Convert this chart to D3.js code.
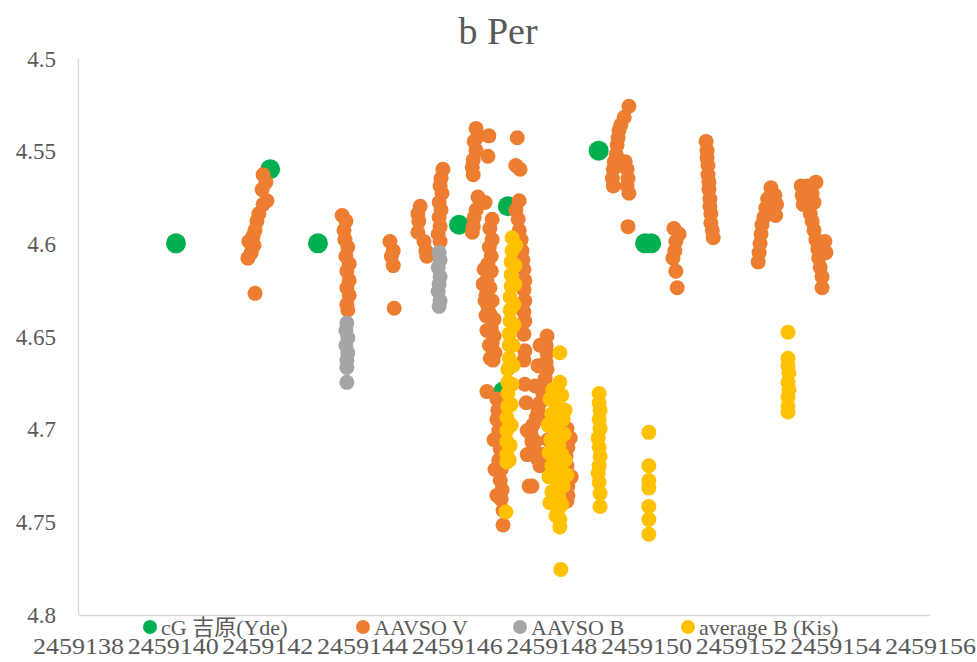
<!DOCTYPE html>
<html lang="ja">
<head>
<meta charset="utf-8">
<title>b Per</title>
<script src="https://cdn.jsdelivr.net/npm/d3@7"></script>
<style>
  body { margin: 0; background: #fff; }
  .axis path { stroke: #d9d9d9; stroke-width: 1.3; }
  .axis text { font-family: "Liberation Serif", "DejaVu Serif", serif; fill: #595959; }
</style>
</head>
<body>
<script>
// chart data (JD, magnitude)
var seriesNames = ["cG 吉原(Yde)", "AAVSO V", "AAVSO B", "average B (Kis)"];
var xTicks = [2459138, 2459140, 2459142, 2459144, 2459146, 2459148, 2459150, 2459152, 2459154, 2459156];
var yTicks = [4.5, 4.55, 4.6, 4.65, 4.7, 4.75, 4.8];

var cgX = [2459140.07, 2459142.06, 2459143.07, 2459146.05, 2459147.08, 2459146.98, 2459149.0, 2459149.98, 2459150.11];
var cgY = [4.600, 4.560, 4.600, 4.590, 4.580, 4.680, 4.550, 4.600, 4.600];

var vX = [
  2459141.91, 2459141.97, 2459141.89, 2459141.99, 2459141.91, 2459141.82, 2459141.78, 2459141.74, 2459141.70, 2459141.61, 2459141.72, 2459141.66, 2459141.59, 2459141.74,
  2459143.58, 2459143.66, 2459143.62, 2459143.64, 2459143.70, 2459143.66, 2459143.73, 2459143.68, 2459143.73, 2459143.68, 2459143.73, 2459143.68, 2459143.70,
  2459144.59, 2459144.66, 2459144.62, 2459144.66, 2459144.68,
  2459145.23, 2459145.18, 2459145.20, 2459145.18, 2459145.31, 2459145.35, 2459145.37,
  2459145.71, 2459145.67, 2459145.65, 2459145.69, 2459145.63, 2459145.67, 2459145.63, 2459145.65, 2459145.61, 2459145.65,
  2459146.41, 2459146.45, 2459146.68, 2459146.37, 2459146.41, 2459146.66, 2459146.35, 2459146.33, 2459146.35, 2459147.28, 2459147.25, 2459147.34,
  2459146.45, 2459146.60, 2459146.41, 2459146.37, 2459146.35, 2459146.33,
  2459146.75, 2459146.70, 2459146.75, 2459146.69, 2459146.73, 2459146.66, 2459146.73, 2459146.64, 2459146.70, 2459146.62, 2459146.75, 2459146.66, 2459146.70, 2459146.79, 2459146.73, 2459146.79, 2459146.75, 2459146.81, 2459146.77,
  2459146.58, 2459146.56, 2459146.60, 2459146.62, 2459146.64, 2459146.69, 2459146.71,
  2459146.64, 2459146.85, 2459146.87, 2459146.85, 2459146.89, 2459146.87, 2459146.92, 2459146.89, 2459146.94, 2459146.92, 2459146.96, 2459146.94, 2459146.98, 2459146.98,
  2459146.79, 2459146.81, 2459146.85,
  2459147.32, 2459147.25, 2459147.30, 2459147.32, 2459147.36, 2459147.38, 2459147.40, 2459147.42, 2459147.44, 2459147.42, 2459147.44, 2459147.42, 2459147.44, 2459147.42, 2459147.44, 2459147.42, 2459147.44, 2459147.47, 2459147.49, 2459147.49, 2459147.53,
  2459147.91, 2459147.89, 2459147.91, 2459147.89, 2459147.91, 2459147.87, 2459147.89, 2459147.82, 2459147.76, 2459147.72, 2459147.68, 2459147.61, 2459147.57, 2459147.59, 2459147.63, 2459147.70, 2459147.76, 2459147.59,
  2459147.76, 2459147.72, 2459147.66, 2459147.87, 2459147.93, 2459147.82, 2459148.01, 2459148.18, 2459148.22, 2459148.40, 2459148.42, 2459147.66,
  2459148.01, 2459148.10, 2459148.18, 2459148.33, 2459148.31, 2459148.35, 2459148.31, 2459148.33, 2459148.31, 2459148.35, 2459148.35, 2459148.33,
  2459149.64, 2459149.54, 2459149.47, 2459149.43, 2459149.41, 2459149.39, 2459149.37, 2459149.33, 2459149.31, 2459149.29, 2459149.31, 2459149.56, 2459149.60, 2459149.62, 2459149.60, 2459149.64, 2459149.62,
  2459150.59, 2459150.70, 2459150.63, 2459150.61, 2459150.57, 2459150.63, 2459150.66,
  2459151.27, 2459151.29, 2459151.29, 2459151.31, 2459151.31, 2459151.33, 2459151.33, 2459151.35, 2459151.35, 2459151.37, 2459151.37, 2459151.40, 2459151.42,
  2459152.64, 2459152.72, 2459152.57, 2459152.76, 2459152.53, 2459152.74, 2459152.49, 2459152.45, 2459152.43, 2459152.41, 2459152.39, 2459152.37,
  2459153.28, 2459153.42, 2459153.59, 2459153.30, 2459153.51, 2459153.32, 2459153.55, 2459153.47, 2459153.51, 2459153.55, 2459153.59, 2459153.78, 2459153.63, 2459153.80, 2459153.65, 2459153.68, 2459153.72, 2459153.72
];
var vY = [
  4.563, 4.567, 4.571, 4.577, 4.579, 4.584, 4.588, 4.593, 4.596, 4.599, 4.601, 4.605, 4.608, 4.627,
  4.585, 4.588, 4.593, 4.598, 4.602, 4.607, 4.611, 4.615, 4.620, 4.624, 4.628, 4.633, 4.636,
  4.599, 4.604, 4.607, 4.612, 4.635,
  4.580, 4.584, 4.588, 4.594, 4.599, 4.604, 4.607,
  4.560, 4.565, 4.569, 4.573, 4.578, 4.582, 4.586, 4.591, 4.595, 4.599,
  4.538, 4.542, 4.542, 4.545, 4.550, 4.553, 4.555, 4.559, 4.563, 4.543, 4.558, 4.560,
  4.575, 4.578, 4.582, 4.586, 4.591, 4.594,
  4.587, 4.592, 4.598, 4.602, 4.607, 4.611, 4.615, 4.620, 4.624, 4.628, 4.631, 4.634, 4.638, 4.641, 4.646, 4.650, 4.654, 4.659, 4.663,
  4.614, 4.622, 4.631, 4.639, 4.647, 4.655, 4.662,
  4.680, 4.684, 4.690, 4.695, 4.701, 4.706, 4.711, 4.717, 4.722, 4.728, 4.733, 4.738, 4.744, 4.752,
  4.706, 4.722, 4.736,
  4.577, 4.582, 4.587, 4.593, 4.598, 4.604, 4.609, 4.614, 4.620, 4.625, 4.631, 4.637, 4.642, 4.649, 4.658, 4.663, 4.676, 4.686, 4.701, 4.714, 4.731,
  4.650, 4.655, 4.659, 4.664, 4.668, 4.673, 4.677, 4.681, 4.686, 4.690, 4.694, 4.698, 4.703, 4.707, 4.711, 4.716, 4.720, 4.731,
  4.655, 4.666, 4.677, 4.695, 4.706, 4.714, 4.722, 4.728, 4.736, 4.705, 4.726, 4.707,
  4.684, 4.690, 4.695, 4.700, 4.705, 4.710, 4.715, 4.720, 4.726, 4.731, 4.736, 4.739,
  4.526, 4.532, 4.536, 4.539, 4.543, 4.547, 4.552, 4.556, 4.560, 4.565, 4.569, 4.556, 4.560, 4.565, 4.569, 4.573, 4.591,
  4.592, 4.595, 4.599, 4.604, 4.608, 4.615, 4.624,
  4.545, 4.550, 4.554, 4.558, 4.563, 4.567, 4.571, 4.576, 4.580, 4.584, 4.589, 4.593, 4.597,
  4.570, 4.574, 4.576, 4.579, 4.581, 4.585, 4.586, 4.590, 4.595, 4.600, 4.605, 4.610,
  4.569, 4.569, 4.567, 4.574, 4.573, 4.579, 4.578, 4.584, 4.588, 4.593, 4.598, 4.599, 4.603, 4.605, 4.608, 4.613, 4.618, 4.624
];

var bX = [
  2459143.68, 2459143.66, 2459143.70, 2459143.66, 2459143.70, 2459143.68, 2459143.68, 2459143.68,
  2459145.63, 2459145.65, 2459145.61, 2459145.65, 2459145.63, 2459145.61, 2459145.65, 2459145.63
];
var bY = [
  4.643, 4.647, 4.651, 4.655, 4.659, 4.663, 4.667, 4.675,
  4.605, 4.609, 4.613, 4.618, 4.622, 4.626, 4.631, 4.634
];

var kisX = [
  2459147.17, 2459147.17, 2459147.15, 2459147.15, 2459147.15, 2459147.13, 2459147.13, 2459147.13, 2459147.11, 2459147.11, 2459147.11, 2459147.08, 2459147.08, 2459147.08, 2459147.08, 2459147.06, 2459147.06, 2459147.06, 2459147.06, 2459147.06, 2459147.04,
  2459147.25, 2459147.23, 2459147.23, 2459147.21, 2459147.21, 2459147.19, 2459147.19, 2459147.17, 2459147.15, 2459147.15, 2459147.13, 2459147.11,
  2459148.18, 2459148.18, 2459148.03, 2459148.22, 2459147.97, 2459148.14, 2459148.29, 2459148.01, 2459148.18, 2459147.93, 2459148.10, 2459148.27, 2459147.99, 2459148.16, 2459147.95, 2459148.12, 2459148.29, 2459148.01, 2459148.18, 2459147.95, 2459148.12, 2459148.25, 2459148.01, 2459148.16, 2459147.97, 2459148.14, 2459148.18, 2459148.18, 2459148.20,
  2459148.25, 2459148.06, 2459148.22, 2459148.06, 2459148.22, 2459148.10, 2459148.33,
  2459149.01, 2459149.01, 2459149.03, 2459149.01, 2459149.03, 2459148.99, 2459149.01, 2459149.03, 2459149.01, 2459148.99, 2459149.01, 2459149.03, 2459149.03,
  2459150.06, 2459150.06, 2459150.06, 2459150.06, 2459150.06, 2459150.06, 2459150.06,
  2459153.00, 2459153.00, 2459153.00, 2459153.02, 2459153.00, 2459153.02, 2459153.00, 2459153.00, 2459153.00
];
var kisY = [
  4.597, 4.604, 4.610, 4.617, 4.623, 4.629, 4.636, 4.642, 4.649, 4.655, 4.662, 4.668, 4.675, 4.681, 4.688, 4.694, 4.701, 4.707, 4.714, 4.718, 4.745,
  4.601, 4.612, 4.622, 4.633, 4.644, 4.655, 4.666, 4.676, 4.687, 4.698, 4.709, 4.717,
  4.659, 4.675, 4.679, 4.682, 4.684, 4.687, 4.690, 4.692, 4.695, 4.698, 4.701, 4.703, 4.706, 4.709, 4.713, 4.715, 4.717, 4.720, 4.722, 4.726, 4.729, 4.731, 4.734, 4.737, 4.740, 4.744, 4.749, 4.753, 4.776,
  4.695, 4.709, 4.714, 4.725, 4.741, 4.747, 4.725,
  4.681, 4.686, 4.690, 4.695, 4.700, 4.705, 4.710, 4.715, 4.720, 4.724, 4.729, 4.735, 4.742,
  4.702, 4.720, 4.728, 4.732, 4.742, 4.749, 4.757,
  4.648, 4.662, 4.666, 4.670, 4.675, 4.679, 4.683, 4.688, 4.691
];

var w = 977, h = 662;
var plotLeft = 78, plotRight = 930, plotTop = 58, plotBottom = 614;

var series = [
  { x: cgX, y: cgY, color: "#00b050", r: 10 },
  { x: vX, y: vY, color: "#ed7d31", r: 7.5 },
  { x: bX, y: bY, color: "#a5a5a5", r: 7.5 },
  { x: kisX, y: kisY, color: "#ffc000", r: 7.5 }
];

var xScale = d3.scaleLinear().domain([2459138, 2459156]).range([plotLeft, plotRight]);
var yScale = d3.scaleLinear().domain([4.5, 4.8]).range([plotTop, plotBottom]);

var svg = d3.select("body").append("svg").attr("width", w).attr("height", h);

// title
svg.append("text")
   .attr("x", 498).attr("y", 44)
   .attr("text-anchor", "middle")
   .attr("font-family", "Liberation Serif, DejaVu Serif, serif")
   .attr("font-size", "38px")
   .attr("fill", "#595959")
   .text("b Per");

// axes
var xAxis = d3.axisBottom(xScale).tickValues(xTicks).tickSize(0).tickSizeOuter(0).tickPadding(22).tickFormat(d3.format("d"));
var yAxis = d3.axisLeft(yScale).tickValues(yTicks).tickSize(0).tickSizeOuter(0).tickPadding(22).tickFormat(function(d) { return +d.toFixed(2); });

var gx = svg.append("g").attr("class", "axis").attr("transform", "translate(0," + (plotBottom + 1) + ")").call(xAxis);
gx.selectAll("text").attr("font-size", "24px").attr("textLength", 91).attr("lengthAdjust", "spacingAndGlyphs");
var gy = svg.append("g").attr("class", "axis").attr("transform", "translate(" + plotLeft + ",0)").call(yAxis);
gy.selectAll("text").attr("font-size", "23px").attr("dy", "0.35em");

// points
series.forEach(function(s) {
  svg.append("g").selectAll("circle")
     .data(d3.range(s.x.length))
     .enter()
     .append("circle")
     .attr("cx", function(i) { return xScale(s.x[i]); })
     .attr("cy", function(i) { return yScale(s.y[i]); })
     .attr("r", s.r)
     .style("fill", s.color);
});

// legend
var legendX = [150, 363, 520, 688];
var legend = svg.append("g").selectAll("g")
   .data(seriesNames)
   .enter()
   .append("g")
   .attr("transform", function(d, i) { return "translate(" + legendX[i] + ",627)"; });
legend.append("circle").attr("r", 7).style("fill", function(d, i) { return series[i].color; });
legend.append("text")
   .attr("x", 11).attr("y", 8)
   .attr("font-family", "Liberation Serif, Noto Sans CJK JP, serif")
   .attr("font-size", "22px")
   .attr("fill", "#595959")
   .text(function(d) { return d; });
</script>
</body>
</html>
